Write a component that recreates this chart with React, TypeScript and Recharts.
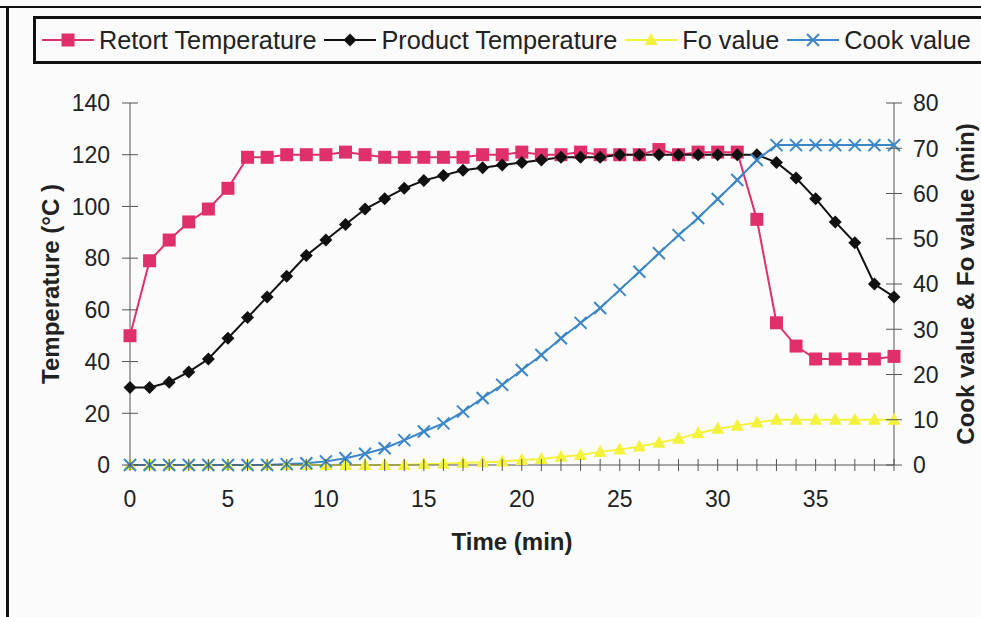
import { LineChart, Line, XAxis, YAxis } from 'recharts';

const time = [0, 1, 2, 3, 4, 5, 6, 7, 8, 9, 10, 11, 12, 13, 14, 15, 16, 17, 18, 19, 20, 21, 22, 23, 24, 25, 26, 27, 28, 29, 30, 31, 32, 33, 34, 35, 36, 37, 38, 39];
const retortTemp = [50, 79, 87, 94, 99, 107, 119, 119, 120, 120, 120, 121, 120, 119, 119, 119, 119, 119, 120, 120, 121, 120, 120, 121, 120, 120, 120, 122, 120, 121, 121, 121, 95, 55, 46, 41, 41, 41, 41, 42];
const productTemp = [30, 30, 32, 36, 41, 49, 57, 65, 73, 81, 87, 93, 99, 103, 107, 110, 112, 114, 115, 116, 117, 118, 119, 119, 119, 120, 120, 120, 120, 120, 120, 120, 120, 117, 111, 103, 94, 86, 70, 65];
const foValue = [0, 0, 0, 0, 0, 0, 0, 0, 0, 0, 0, 0, 0, 0, 0, 0.2, 0.3, 0.5, 0.6, 0.8, 1.1, 1.3, 1.8, 2.2, 2.9, 3.4, 4.1, 4.9, 5.8, 7, 8, 8.7, 9.4, 10, 10, 10, 10, 10, 10, 10];
const cookValue = [0, 0, 0, 0, 0, 0, 0, 0, 0.2, 0.4, 0.8, 1.5, 2.5, 3.7, 5.5, 7.4, 9.2, 11.8, 14.8, 17.7, 21, 24.3, 28, 31.4, 34.7, 38.7, 42.7, 46.8, 50.8, 54.6, 58.8, 63, 67.4, 70.7, 70.7, 70.7, 70.7, 70.7, 70.7, 70.7];

const tempTicks = [0, 20, 40, 60, 80, 100, 120, 140];
const valueTicks = [0, 10, 20, 30, 40, 50, 60, 70, 80];
const labelledTimes = [0, 5, 10, 15, 20, 25, 30, 35];

const data = time.map((t, i) => ({
  t,
  retort: retortTemp[i],
  product: productTemp[i],
  fo: foValue[i],
  cook: cookValue[i],
}));

type Shape = 'square' | 'diamond' | 'triangle' | 'cross';

const series: { key: string; name: string; color: string; axis: string; shape: Shape }[] = [
  { key: 'retort', name: 'Retort Temperature', color: '#e0306b', axis: 'left', shape: 'square' },
  { key: 'product', name: 'Product Temperature', color: '#111111', axis: 'left', shape: 'diamond' },
  { key: 'fo', name: 'Fo value', color: '#f3f33c', axis: 'right', shape: 'triangle' },
  { key: 'cook', name: 'Cook value', color: '#3b86c6', axis: 'right', shape: 'cross' },
];

const FONT = '"Liberation Sans", Arial, sans-serif';
const AXIS = '#555';

const marker = (shape: Shape, cx: number, cy: number, color: string, key?: string) => {
  if (shape === 'square') return <rect key={key} x={cx - 6.5} y={cy - 6.5} width={13} height={13} fill={color} />;
  if (shape === 'diamond')
    return <polygon key={key} points={`${cx},${cy - 6.5} ${cx + 6.5},${cy} ${cx},${cy + 6.5} ${cx - 6.5},${cy}`} fill={color} />;
  if (shape === 'triangle')
    return <polygon key={key} points={`${cx},${cy - 7} ${cx + 6.5},${cy + 5} ${cx - 6.5},${cy + 5}`} fill={color} />;
  return (
    <g key={key} stroke={color} strokeWidth={2}>
      <line x1={cx - 6} y1={cy - 6} x2={cx + 6} y2={cy + 6} />
      <line x1={cx - 6} y1={cy + 6} x2={cx + 6} y2={cy - 6} />
    </g>
  );
};

const LeftTick = (p: any) => {
  const ax = p.x + 20;
  return (
    <g>
      <line x1={ax - 8} x2={ax + 8} y1={p.y} y2={p.y} stroke={AXIS} />
      <text x={p.x} y={p.y} dy="0.36em" textAnchor="end" fontSize={23} fill="#222" fontFamily={FONT}>
        {p.payload.value}
      </text>
    </g>
  );
};

const RightTick = (p: any) => {
  const ax = p.x - 19;
  return (
    <g>
      <line x1={ax - 8} x2={ax + 8} y1={p.y} y2={p.y} stroke={AXIS} />
      <text x={p.x} y={p.y} dy="0.36em" textAnchor="start" fontSize={23} fill="#222" fontFamily={FONT}>
        {p.payload.value}
      </text>
    </g>
  );
};

const BottomTick = (p: any) => {
  const ay = p.y - 26;
  const v = p.payload.value;
  return (
    <g>
      <line x1={p.x} x2={p.x} y1={ay - 6} y2={ay + 6} stroke={AXIS} />
      {labelledTimes.includes(v) && (
        <text x={p.x} y={p.y} dy="0.71em" textAnchor="middle" fontSize={23} fill="#222" fontFamily={FONT}>
          {v}
        </text>
      )}
    </g>
  );
};

const LegendBox = () => (
  <div
    style={{
      position: 'absolute',
      left: 33,
      top: 16,
      width: 1000,
      height: 42,
      border: '3px solid #111',
      display: 'flex',
      alignItems: 'center',
      paddingLeft: 6,
      fontFamily: FONT,
      fontSize: 25.3,
      color: '#222',
      whiteSpace: 'nowrap',
    }}
  >
    {series.map((s) => (
      <div key={s.key} style={{ display: 'flex', alignItems: 'center', marginRight: 8 }}>
        <svg width={52} height={20} style={{ marginRight: 5 }}>
          <line x1={0} x2={52} y1={10} y2={10} stroke={s.color} strokeWidth={2} />
          {marker(s.shape, 26, 10, s.color)}
        </svg>
        <span>{s.name}</span>
      </div>
    ))}
  </div>
);

export default function App() {
  return (
    <div
      style={{
        position: 'absolute',
        left: 0,
        top: 0,
        width: 981,
        height: 617,
        overflow: 'hidden',
        background: '#fbfbfb',
      }}
    >
      <div style={{ position: 'absolute', left: 0, top: 6, width: 981, height: 2, background: '#111' }} />
      <div style={{ position: 'absolute', left: 6, top: 6, width: 3, height: 611, background: '#111' }} />
      <LegendBox />
      <LineChart
        width={981}
        height={617}
        data={data}
        margin={{ top: 103, right: 0, bottom: 0, left: 0 }}
        style={{ position: 'absolute', left: 0, top: 0 }}
      >
        <XAxis
          dataKey="t"
          type="number"
          domain={[0, 39]}
          ticks={time}
          interval={0}
          height={152}
          stroke={AXIS}
          tickSize={6}
          tickMargin={20}
          tickLine={false}
          tick={<BottomTick />}
          label={{
            value: 'Time (min)',
            position: 'insideTop',
            offset: 68,
            style: { fontFamily: FONT, fontSize: 24, fontWeight: 'bold', fill: '#222' },
          }}
        />
        <YAxis
          yAxisId="left"
          orientation="left"
          width={130}
          domain={[0, 140]}
          ticks={tempTicks}
          interval={0}
          stroke={AXIS}
          tickSize={8}
          tickMargin={12}
          tickLine={false}
          tick={<LeftTick />}
          label={{
            value: 'Temperature (°C )',
            angle: -90,
            position: 'insideLeft',
            offset: 50,
            style: { textAnchor: 'middle', fontFamily: FONT, fontSize: 24, fontWeight: 'bold', fill: '#222' },
          }}
        />
        <YAxis
          yAxisId="right"
          orientation="right"
          width={87}
          domain={[0, 80]}
          ticks={valueTicks}
          interval={0}
          stroke={AXIS}
          tickSize={8}
          tickMargin={11}
          tickLine={false}
          tick={<RightTick />}
          label={{
            value: 'Cook value & Fo value  (min)',
            angle: -90,
            position: 'insideRight',
            offset: 16,
            style: { textAnchor: 'middle', fontFamily: FONT, fontSize: 24, fontWeight: 'bold', fill: '#222', whiteSpace: 'pre' },
          }}
        />
        {series.map((s) => (
          <Line
            key={s.key}
            yAxisId={s.axis}
            dataKey={s.key}
            name={s.name}
            type="linear"
            stroke={s.color}
            strokeWidth={2}
            isAnimationActive={false}
            dot={(p: any) => marker(s.shape, p.cx, p.cy, s.color, `${s.key}-${p.index}`)}
            activeDot={false}
          />
        ))}
      </LineChart>
    </div>
  );
}
